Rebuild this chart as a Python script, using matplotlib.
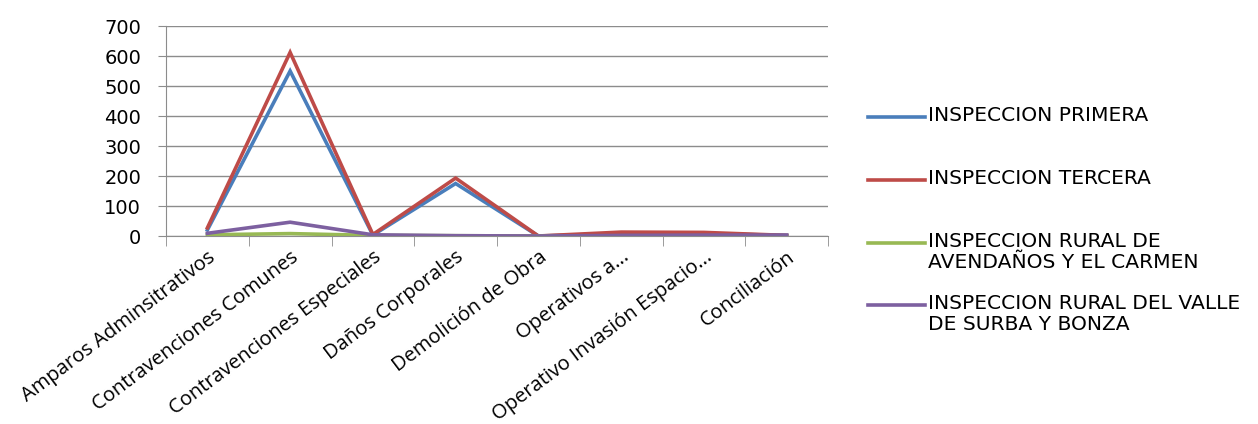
import numpy as np
import matplotlib
matplotlib.use("Agg")
import matplotlib.pyplot as plt
from matplotlib.lines import Line2D

plt.rcParams['font.family'] = ['Open Sans', 'DejaVu Sans']

# categories and series values
categories = ['Amparos Adminsitrativos', 'Contravenciones Comunes',
              'Contravenciones Especiales', 'Daños Corporales',
              'Demolición de Obra', 'Operativos a...',
              'Operativo Invasión Espacio...', 'Conciliación']
primera = [20, 550, 3, 175, 0, 8, 8, 2]
tercera = [27, 612, 5, 193, 0, 13, 12, 2]
rural_avendanos = [4, 8, 2, 1, 0, 0, 0, 0]
rural_valle = [9, 46, 4, 1, 0, 2, 3, 3]

series_names = ['INSPECCION PRIMERA', 'INSPECCION TERCERA',
                'INSPECCION RURAL DE\nAVENDAÑOS Y EL CARMEN',
                'INSPECCION RURAL DEL VALLE\nDE SURBA Y BONZA']
series_vals = [primera, tercera, rural_avendanos, rural_valle]
colors = ['#4A7EBB', '#BE4B48', '#98B954', '#7D60A0']

W, H = 1258, 424
fig = plt.figure(figsize=(12.58, 4.24), dpi=100)
ax = fig.add_axes([166 / W, 1 - 236 / H, 662 / W, 210 / H])

x = np.arange(len(categories))
for vals, c in zip(series_vals, colors):
    ax.plot(x, vals, color=c, lw=2.6, solid_joinstyle='miter')

ax.set_xlim(-0.5, len(categories) - 0.5)
ax.set_ylim(0, 700)
ax.set_yticks(np.arange(0, 701, 100))
ax.grid(axis='y', color='#8C8C8C', lw=1)
ax.set_axisbelow(True)
for s in ['top', 'right']:
    ax.spines[s].set_visible(False)
for s in ['left', 'bottom']:
    ax.spines[s].set_color('#8C8C8C')
ax.tick_params(axis='y', length=6, color='#8C8C8C', pad=12)
for lab in ax.get_yticklabels():
    lab.set_fontfamily('DejaVu Sans')
    lab.set_fontsize(14)
ax.set_xticks(x)
ax.set_xticklabels(categories, rotation=37, ha='right', rotation_mode='anchor',
                   fontsize=14.5)
ax.tick_params(axis='x', which='major', length=0, pad=8)
ax.set_xticks(np.arange(-0.5, len(categories)), minor=True)
ax.tick_params(axis='x', which='minor', length=7, color='#8C8C8C')

# legend drawn by hand so the handle sits on the first text line
lx0, lx1 = 868 / W, 925 / W
ys = [117, 180, 243, 305]
for name, c, yp in zip(series_names, colors, ys):
    yf = 1 - yp / H
    fig.add_artist(Line2D([lx0, lx1], [yf, yf], color=c, lw=2.6,
                          transform=fig.transFigure))
    fig.text(lx1 + 3 / W, yf + 11 / H, name, fontsize=14.6, va='top', ha='left',
             linespacing=1.1, family='DejaVu Sans')

fig.savefig('out.png', dpi=100)
